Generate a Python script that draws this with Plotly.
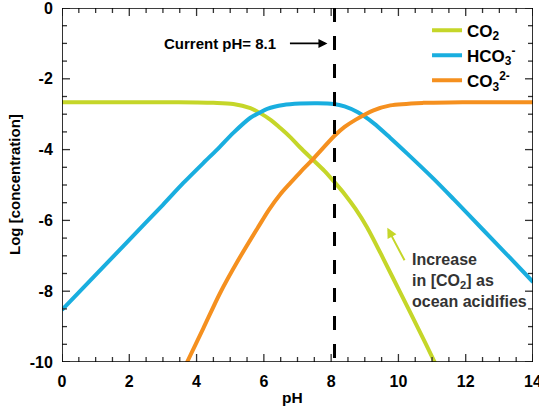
import numpy as np
import plotly.graph_objects as go

# ---- data ----
co2_ph = [0, 1, 2, 3, 4, 4.5, 5.09, 5.6, 5.89, 6.2, 6.49, 6.8, 7.08, 7.44, 7.8, 8.1, 8.42, 8.72, 9.07, 9.56, 10.06, 10.56, 11.04, 11.2]
co2_log = [-2.66, -2.66, -2.66, -2.66, -2.67, -2.68, -2.71, -2.83, -2.97, -3.16, -3.39, -3.66, -3.94, -4.27, -4.6, -4.92, -5.28, -5.67, -6.2, -7.1, -8.05, -9.0, -9.93, -10.25]

hco3_ph = [0, 1, 2, 3, 3.6, 4.2, 4.61, 5.1, 5.6, 5.89, 6.1, 6.58, 7.08, 7.6, 8.07, 8.4, 8.78, 9.26, 9.76, 10.27, 11.04, 11.64, 12.5, 13.3, 14]
hco3_log = [-8.53, -7.54, -6.55, -5.56, -4.95, -4.38, -4.0, -3.52, -3.1, -2.95, -2.85, -2.74, -2.7, -2.69, -2.71, -2.78, -2.94, -3.25, -3.67, -4.12, -4.82, -5.4, -6.25, -7.04, -7.74]

co3_ph = [3.6, 3.72, 4.2, 4.7, 5.24, 5.83, 6.15, 6.49, 6.79, 7.1, 7.44, 8.1, 8.4, 8.72, 9.26, 9.76, 10.74, 12, 13, 14]
co3_log = [-10.25, -10.0, -9.05, -8.05, -7.12, -6.19, -5.7, -5.26, -4.94, -4.62, -4.29, -3.61, -3.36, -3.16, -2.89, -2.75, -2.68, -2.66, -2.66, -2.66]

current_ph = 8.1
x_ticks = [0, 2, 4, 6, 8, 10, 12, 14]
y_ticks = [0, -2, -4, -6, -8, -10]
minor_step = 0.5

FONT = "Liberation Sans, Arial, Helvetica, sans-serif"
C_CO2 = "#C5D629"
C_HCO3 = "#19AEDF"
C_CO3 = "#F5901F"
X_RANGE = [0, 14]
Y_RANGE = [-10, 0]

W, H = 539, 418
MARGIN = dict(l=62, r=6, t=8, b=56)
plot_w = W - MARGIN["l"] - MARGIN["r"]
plot_h = H - MARGIN["t"] - MARGIN["b"]
px_x = (X_RANGE[1] - X_RANGE[0]) / plot_w   # data units per pixel
px_y = (Y_RANGE[1] - Y_RANGE[0]) / plot_h

fig = go.Figure()
fig.add_trace(go.Scatter(x=co2_ph, y=co2_log, mode="lines", name="CO<sub>2</sub>",
                         line=dict(color=C_CO2, width=4, shape="spline", smoothing=0.8)))
fig.add_trace(go.Scatter(x=hco3_ph, y=hco3_log, mode="lines", name="HCO<sub>3</sub><sup>-</sup>",
                         line=dict(color=C_HCO3, width=4, shape="spline", smoothing=0.8)))
fig.add_trace(go.Scatter(x=co3_ph, y=co3_log, mode="lines", name="CO<sub>3</sub><sup>2-</sup>",
                         line=dict(color=C_CO3, width=4, shape="spline", smoothing=0.8)))
fig.add_trace(go.Scatter(x=[current_ph, current_ph], y=[Y_RANGE[1], Y_RANGE[0]], mode="lines",
                         showlegend=False, hoverinfo="skip",
                         line=dict(color="black", width=3, dash="14px,14px")))

# ---- frame and inside tick marks (all four sides) ----
def tick_len(v, majors):
    return 8 if any(abs(v - t) < 1e-9 for t in majors) else 5

tx, ty = [], []
for v in np.arange(X_RANGE[0], X_RANGE[1] + 1e-9, minor_step):
    d = tick_len(v, x_ticks) * px_y
    tx += [v, v, None, v, v, None]
    ty += [Y_RANGE[0], Y_RANGE[0] + d, None, Y_RANGE[1], Y_RANGE[1] - d, None]
for v in np.arange(Y_RANGE[0], Y_RANGE[1] + 1e-9, minor_step):
    d = tick_len(v, y_ticks) * px_x
    tx += [X_RANGE[0], X_RANGE[0] + d, None, X_RANGE[1], X_RANGE[1] - d, None]
    ty += [v, v, None, v, v, None]
fig.add_trace(go.Scatter(x=tx, y=ty, mode="lines", showlegend=False, hoverinfo="skip",
                         cliponaxis=False, line=dict(color="#333", width=1.3)))
fig.add_trace(go.Scatter(x=[X_RANGE[0], X_RANGE[1], X_RANGE[1], X_RANGE[0], X_RANGE[0]],
                         y=[Y_RANGE[0], Y_RANGE[0], Y_RANGE[1], Y_RANGE[1], Y_RANGE[0]],
                         mode="lines", showlegend=False, hoverinfo="skip", cliponaxis=False,
                         line=dict(color="black", width=1.6)))

tickfont = dict(family=FONT, size=16, color="black", weight="bold")
label_axis = dict(showgrid=False, zeroline=False, showline=False, ticks="outside",
                  tickcolor="rgba(0,0,0,0)", automargin=False, ticklabeloverflow="allow",
                  tickfont=tickfont)
fig.update_xaxes(range=X_RANGE, tickvals=x_ticks, ticklen=5, **label_axis)
fig.update_yaxes(range=Y_RANGE, tickvals=y_ticks, ticktext=[str(v) for v in y_ticks], ticklen=5, **label_axis)

# axis titles
fig.add_annotation(x=0.49, y=0, xref="paper", yref="paper", yshift=-35, yanchor="middle",
                   xanchor="center", text="pH", showarrow=False,
                   font=dict(family=FONT, size=15.5, color="black", weight="bold"))
fig.add_annotation(x=0, y=0.5, xref="paper", yref="paper", xshift=-48, xanchor="center",
                   yanchor="middle", text="Log [concentration]", textangle=-90, showarrow=False,
                   font=dict(family=FONT, size=15, color="black", weight="bold"))

# Current pH annotation: text + black arrow
fig.add_annotation(x=6.43, y=-1.0, xref="x", yref="y", text="Current pH= 8.1", showarrow=False,
                   xanchor="right", font=dict(family=FONT, size=15, color="black", weight="bold"))
fig.add_annotation(x=7.89, y=-1.0, xref="x", yref="y", text="", showarrow=True,
                   ax=-39, ay=0, arrowhead=2, arrowsize=1, arrowwidth=1.8, arrowcolor="black")

# Ocean acidification annotation
fig.add_annotation(x=9.67, y=-6.21, xref="x", yref="y", text="", showarrow=True,
                   ax=18, ay=34, arrowhead=2, arrowsize=1, arrowwidth=2, arrowcolor=C_CO2)
fig.add_annotation(x=10.33, y=-6.8, xref="x", yref="y", xanchor="left", yanchor="top", align="left",
                   text="Increase<br>in [CO<sub>2</sub>] as<br>ocean acidifies", showarrow=False,
                   font=dict(family=FONT, size=16, color="#333333", weight="bold"))

fig.update_layout(
    width=W, height=H,
    margin=dict(**MARGIN, autoexpand=False),
    plot_bgcolor="white", paper_bgcolor="white",
    showlegend=True,
    legend=dict(x=0.775, y=0.987, xanchor="left", yanchor="top", bgcolor="rgba(0,0,0,0)",
                font=dict(family=FONT, size=17, color="black", weight="bold"), tracegroupgap=0,
                itemwidth=30),
)

# remove the browser's default 8px page margin so the figure fills the window
fig.write_html("out.html", config={"displayModeBar": False},
               post_script="document.body.style.margin='0px';")
